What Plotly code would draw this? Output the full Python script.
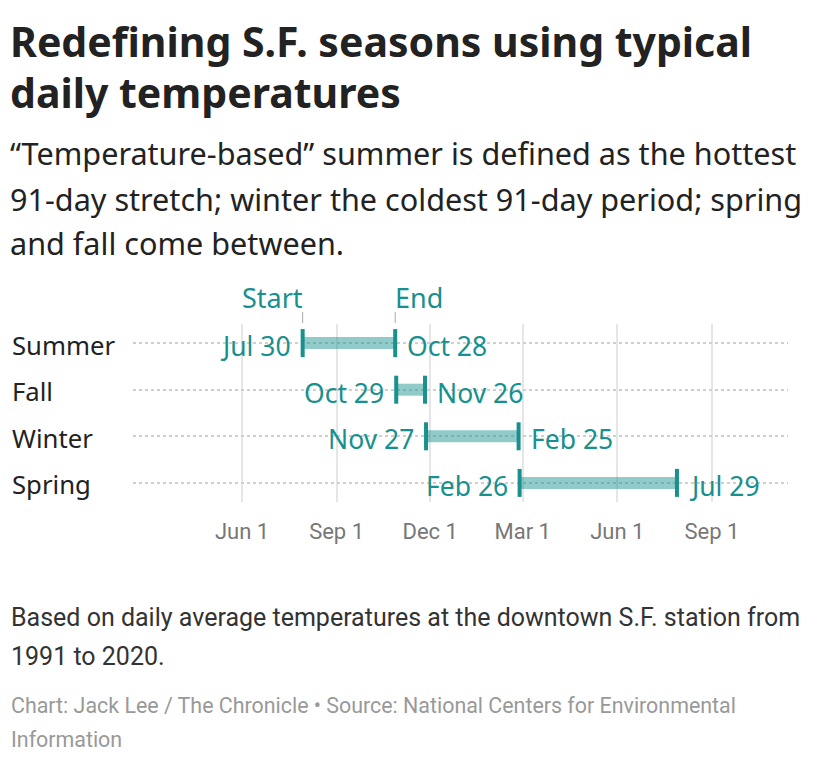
import plotly.graph_objects as go

# ---- data ----
seasons = ["Summer", "Fall", "Winter", "Spring"]
start_dates = ["2021-07-30", "2021-10-29", "2021-11-27", "2022-02-26"]
end_dates = ["2021-10-28", "2021-11-26", "2022-02-25", "2022-07-29"]
start_labels = ["Jul 30", "Oct 29", "Nov 27", "Feb 26"]
end_labels = ["Oct 28", "Nov 26", "Feb 25", "Jul 29"]
tick_dates = ["2021-06-01", "2021-09-01", "2021-12-01", "2022-03-01", "2022-06-01", "2022-09-01"]
tick_labels = ["Jun 1", "Sep 1", "Dec 1", "Mar 1", "Jun 1", "Sep 1"]
x_range = ["2021-02-15", "2022-11-14"]

title_lines = ["Redefining S.F. seasons using typical", "daily temperatures"]
subtitle_lines = ["“Temperature-based” summer is defined as the hottest",
                  "91-day stretch; winter the coldest 91-day period; spring",
                  "and fall come between."]
note_lines = ["Based on daily average temperatures at the downtown S.F. station from",
              "1991 to 2020."]
source_lines = ["Chart: Jack Lee / The Chronicle • Source: National Centers for Environmental",
                "Information"]

# ---- layout geometry (pixels) ----
W, H = 820, 766
PL, PR, PT, PB = 133, 788, 324, 502
TEAL = "#17908e"
SANS = "Noto Sans"


def px_x(px):
    return (px - PL) / (PR - PL)


def px_y(py):
    return (PB - py) / (PB - PT)


fig = go.Figure()

# bars
bx, by = [], []
for i, (s, e) in enumerate(zip(start_dates, end_dates)):
    bx += [s, e, None]
    by += [i, i, None]
fig.add_trace(go.Scatter(x=bx, y=by, mode="lines",
                         line=dict(color="rgba(23,144,142,0.48)", width=12),
                         hoverinfo="skip", showlegend=False))
# caps
fig.add_trace(go.Scatter(x=start_dates + end_dates,
                         y=list(range(len(seasons))) * 2,
                         mode="markers",
                         marker=dict(symbol="line-ns", size=20,
                                     line=dict(color=TEAL, width=4)),
                         hoverinfo="skip", showlegend=False))

ann = []
for i in range(len(seasons)):
    ann.append(dict(x=start_dates[i], y=i, xref="x", yref="y", text=start_labels[i],
                    xanchor="right", yanchor="middle", xshift=-10, yshift=-3, showarrow=False,
                    font=dict(family=SANS, size=26.5, color=TEAL)))
    ann.append(dict(x=end_dates[i], y=i, xref="x", yref="y", text=end_labels[i],
                    xanchor="left", yanchor="middle", xshift=10, yshift=-3, showarrow=False,
                    font=dict(family=SANS, size=26.5, color=TEAL)))
    ann.append(dict(x=px_x(10), y=i, xref="paper", yref="y", text=seasons[i],
                    xanchor="left", yanchor="middle", yshift=-2, showarrow=False,
                    font=dict(family=SANS, size=25.7, color="#222")))

# Start / End legend
ann.append(dict(x=start_dates[0], y=px_y(297), xref="x", yref="paper", text="Start",
                xanchor="right", yanchor="middle", xshift=2, showarrow=False,
                font=dict(family=SANS, size=27, color=TEAL)))
ann.append(dict(x=end_dates[0], y=px_y(297), xref="x", yref="paper", text="End",
                xanchor="left", yanchor="middle", xshift=-2, showarrow=False,
                font=dict(family=SANS, size=27, color=TEAL)))
shapes = []
for d in (start_dates[0], end_dates[0]):
    shapes.append(dict(type="line", xref="x", yref="paper", x0=d, x1=d,
                       y0=px_y(312), y1=px_y(323), line=dict(color="#aaa", width=1)))

# titles and texts
for j, t in enumerate(title_lines):
    ann.append(dict(x=px_x(8), y=px_y([41, 92][j]), xref="paper", yref="paper",
                    text="<b>" + t + "</b>", xanchor="left", yanchor="middle", showarrow=False,
                    font=dict(family=SANS, size=41, color="#222")))
for j, t in enumerate(subtitle_lines):
    ann.append(dict(x=px_x(8), y=px_y([153, 199, 243][j]), xref="paper", yref="paper",
                    text=t, xanchor="left", yanchor="middle", showarrow=False,
                    font=dict(family=SANS, size=30.6, color="#222")))
for j, t in enumerate(note_lines):
    ann.append(dict(x=px_x(9), y=px_y([617, 656][j]), xref="paper", yref="paper",
                    text=t, xanchor="left", yanchor="middle", showarrow=False,
                    font=dict(family="Roboto", size=25, color="#333")))
for j, t in enumerate(source_lines):
    ann.append(dict(x=px_x(9), y=px_y([705, 739][j]), xref="paper", yref="paper",
                    text=t, xanchor="left", yanchor="middle", showarrow=False,
                    font=dict(family="Roboto", size=21.4, color="#999")))

fig.update_layout(
    width=W, height=H,
    margin=dict(l=PL, r=W - PR, t=PT, b=H - PB, pad=0),
    paper_bgcolor="white", plot_bgcolor="white",
    xaxis=dict(type="date", range=x_range, tickvals=tick_dates, ticktext=tick_labels,
               showgrid=True, gridcolor="#e6e6e6", gridwidth=2, zeroline=False,
               showline=False, ticks="", ticklabelstandoff=14,
               tickfont=dict(family="Roboto", size=22, color="#777")),
    yaxis=dict(range=[3.41, -0.41], tickvals=list(range(len(seasons))),
               showticklabels=False, showgrid=True, gridcolor="#cfcfcf", gridwidth=1.5,
               griddash="dot", zeroline=False, showline=False, ticks=""),
    annotations=ann, shapes=shapes,
)

fig.write_html("out.html")
